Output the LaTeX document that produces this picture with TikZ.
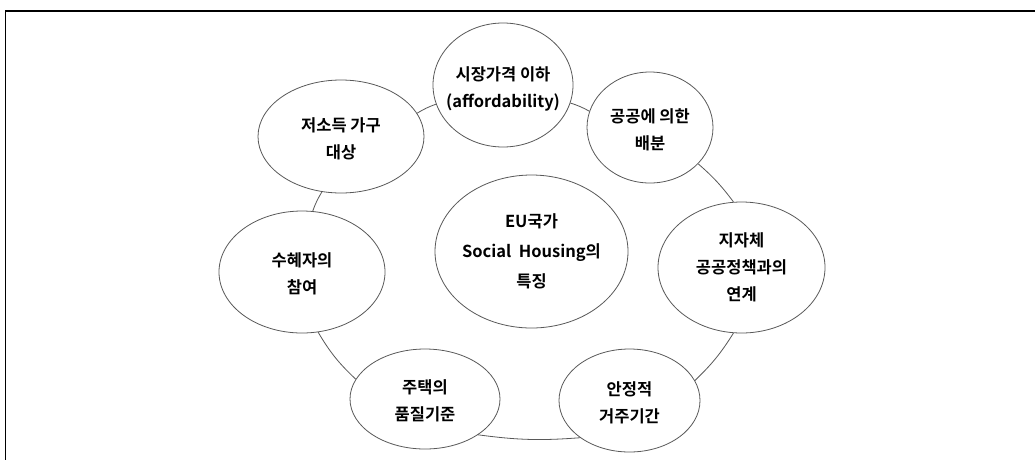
\documentclass[tikz,border=0pt]{standalone}
\usepackage{fontspec}
\setmainfont{Noto Sans CJK KR}[BoldFont={Noto Sans CJK KR Bold}]
\usetikzlibrary{shapes.geometric}
\begin{document}
\begin{tikzpicture}[x=1pt,y=-1pt,
  bub/.style={ellipse, draw=black!65, line width=0.8pt, fill=white, inner sep=0pt},
  lbl/.style={font=\bfseries\fontsize{16.5}{27}\selectfont, align=center, inner sep=0pt},
  ring/.style={draw=black!65, line width=0.8pt}]
\useasboundingbox (0,0) rectangle (1035,459);
\clip (0,0) rectangle (1035,459);
\fill[white] (0,0) rectangle (1035,459);
\draw[line width=1.5pt] (5.5,11) rectangle (1045,470);
% bubbles
\node[bub, minimum width=140pt, minimum height=124pt] (n1) at (503,85) {};
\node[bub, minimum width=126pt, minimum height=111pt] (n2) at (650,127.5) {};
\node[bub, minimum width=166pt, minimum height=113pt] (n3) at (341,136.5) {};
\node[bub, minimum width=166pt, minimum height=122pt] (n4) at (302,272) {};
\node[bub, minimum width=150pt, minimum height=100pt] (n5) at (425,399) {};
\node[bub, minimum width=141pt, minimum height=103pt] (n6) at (629.5,400.5) {};
\node[bub, minimum width=167pt, minimum height=131pt] (n7) at (741.5,267.5) {};
\node[bub, minimum width=193pt, minimum height=153pt] (n0) at (531.5,251.5) {};
% labels
\node[lbl] (t1) at ([yshift=-4pt]n1.center) {시장가격 이하\\(affordability)};
\node[lbl] (t2) at ([yshift=-2pt]n2.center) {공공에 의한\\배분};
\node[lbl] (t3) at ([yshift=-2pt]n3.center) {저소득 가구\\대상};
\node[lbl] (t4) at ([yshift=-2pt]n4.center) {수혜자의\\참여};
\node[lbl] (t5) at ([yshift=-2pt]n5.center) {주택의\\품질기준};
\node[lbl] (t6) at ([yshift=-2pt]n6.center) {안정적\\거주기간};
\node[lbl] (t7) at ([yshift=0pt]n7.center) {지자체\\공공정책과의\\연계};
\node[lbl, font=\bfseries\fontsize{16.5}{30}\selectfont] (t0) at (n0.center) {EU국가\\Social\hspace{0.45em}Housing의\\특징};
% ring connectors
\draw[ring] (n3.17.6) to[bend left=6] (n1.196.9);
\draw[ring] (n1.-15.4) to[bend left=6] (n2.165.5);
\draw[ring] (n2.-37.4) to[bend left=6] (n7.97.4);
\draw[ring] (n7.-97.4) to[bend left=7] (n6.17.4);
\draw[ring] (n6.217.8) to[bend left=6] (n5.-34.9);
\draw[ring] (n5.164.8) to[bend left=8] (n4.-75.3);
\draw[ring] (n4.80.7) to[bend left=6] (n3.251.4);
\end{tikzpicture}
\end{document}
